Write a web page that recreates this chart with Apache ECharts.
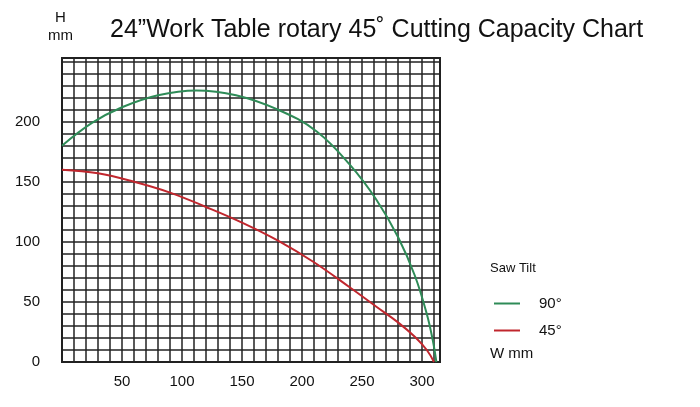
<!DOCTYPE html>
<html><head><meta charset="utf-8">
<script src="https://cdn.jsdelivr.net/npm/echarts@6/dist/echarts.min.js"></script>
<style>html,body{margin:0;background:#fff}#c{width:700px;height:407px}</style>
</head><body><div id="c"></div>
<script>
const tilt90 = [[0,180],[25,199],[50,212],[80,222],[112,226],[145,222],[180,210],[212,192],[240,164],[262,135],[280,104],[294,72],[304,40],[309,18],[312,0]];
const tilt45 = [[0,160],[30,157],[60,150],[90,141],[120,129],[150,116],[180,101],[210,83],[240,62],[262,46],[280,33],[294,21],[304,10],[310,0]];
const seriesNames = ['90°','45°'];
const colors = ['#2e8b57','#c0262d'];
const chart = echarts.init(document.getElementById('c'));
const font = 'Liberation Sans, Arial, sans-serif';
chart.setOption({
  animation:false,
  title:{text:'24”Work Table rotary 45˚ Cutting Capacity Chart',left:105,top:13,textStyle:{fontFamily:font,fontWeight:'normal',fontSize:25,color:'#111'}},
  grid:{left:62,top:58,width:378,height:304},
  xAxis:{type:'value',min:0,max:315,interval:10,
    axisLine:{show:false},axisTick:{show:false},
    axisLabel:{fontFamily:font,fontSize:15,color:'#111',margin:12,showMaxLabel:false,
      formatter:v=>(v>0&&v%50===0&&v<=300)?String(v):''},
    splitLine:{lineStyle:{color:'#222',width:1.5}}},
  yAxis:{type:'value',min:0,max:253,interval:10,
    axisLine:{show:false},axisTick:{show:false},
    axisLabel:{fontFamily:font,fontSize:15,color:'#111',margin:22,showMaxLabel:false,
      formatter:v=>(v%50===0&&v<=200)?String(v):''},
    splitLine:{lineStyle:{color:'#222',width:1.5}}},
  graphic:[
    {type:'rect',shape:{x:62,y:58,width:378,height:304},style:{fill:'none',stroke:'#222',lineWidth:2}},
    {type:'text',left:55,top:10,style:{text:'H',font:'15px '+font,fill:'#111'}},
    {type:'text',left:48,top:28,style:{text:'mm',font:'15px '+font,fill:'#111'}},
    {type:'text',left:490,top:262,style:{text:'Saw Tilt',font:'13px '+font,fill:'#111'}},
    {type:'text',left:490,top:346,style:{text:'W mm',font:'15px '+font,fill:'#111'}}
  ],
  legend:{orient:'vertical',left:489,top:291,itemGap:12,itemWidth:26,itemHeight:2,icon:'rect',
    textStyle:{fontFamily:font,fontSize:15,color:'#111',padding:[0,0,0,14]},data:seriesNames},
  series:[
    {name:seriesNames[0],type:'line',smooth:0.4,showSymbol:false,data:tilt90,lineStyle:{color:colors[0],width:2},itemStyle:{color:colors[0]}},
    {name:seriesNames[1],type:'line',smooth:0.4,showSymbol:false,data:tilt45,lineStyle:{color:colors[1],width:2},itemStyle:{color:colors[1]}}
  ]
});
</script></body></html>
